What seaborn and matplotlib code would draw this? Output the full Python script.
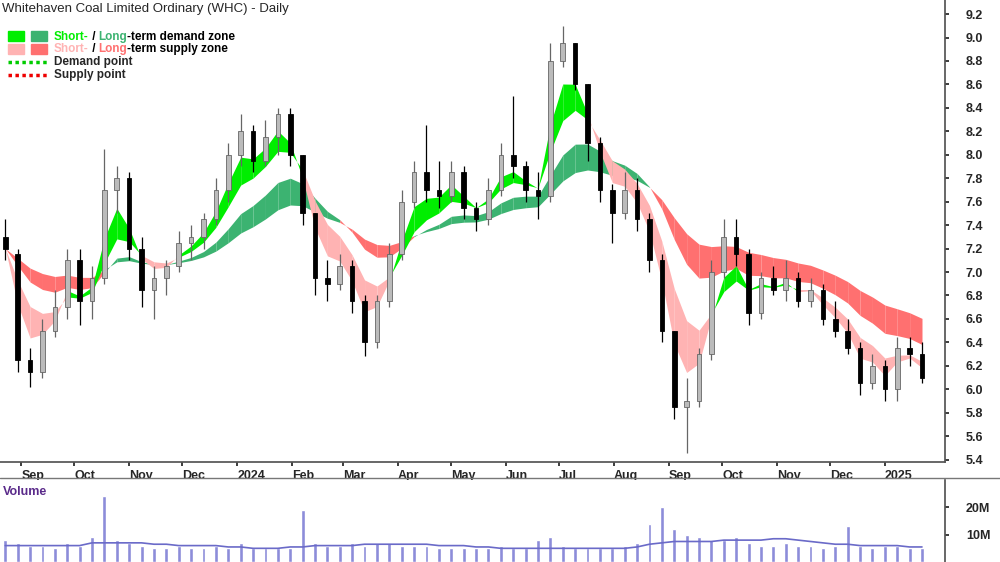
import numpy as np
import pandas as pd
import matplotlib
matplotlib.use("Agg")
import matplotlib.pyplot as plt
import matplotlib.dates as mdates
from matplotlib.patches import Rectangle
import seaborn as sns

sns.set_theme(style="white")
plt.rcParams['font.family'] = ['Liberation Sans', 'DejaVu Sans']

week_start = "2023-08-21"
opens  = [7.30,7.15,6.25,6.15,6.50,6.70,7.10,6.75,6.95,7.70,7.80,7.20,6.85,6.95,7.05,7.25,7.30,7.45,7.70,8.00,
          8.20,7.95,8.15,8.35,8.00,7.50,6.95,6.90,7.05,6.75,6.40,6.75,7.15,7.60,7.85,7.70,7.65,7.85,7.55,7.45,
          7.70,8.00,7.90,7.70,7.65,8.80,8.95,8.60,8.10,7.70,7.50,7.70,7.45,7.10,6.50,5.85,5.90,6.30,7.00,7.30,
          7.15,6.65,6.95,6.85,6.95,6.75,6.85,6.60,6.50,6.35,6.05,6.20,6.00,6.35,6.30]
highs  = [7.45,7.20,6.35,6.60,6.85,7.20,7.20,7.05,8.05,7.90,7.85,7.30,7.05,7.10,7.35,7.40,7.50,7.80,8.10,8.35,
          8.25,8.30,8.40,8.40,8.00,7.50,7.10,7.15,7.10,6.80,6.80,7.25,7.70,7.95,8.25,7.95,7.95,7.90,7.60,7.80,
          8.10,8.50,7.95,7.85,8.95,9.10,8.95,8.60,8.15,7.75,7.85,7.80,7.50,7.15,6.50,6.10,6.35,7.10,7.45,7.45,
          7.20,7.00,7.05,7.10,7.00,6.95,6.90,6.75,6.60,6.40,6.30,6.25,6.45,6.45,6.40]
lows   = [7.10,6.15,6.02,6.10,6.45,6.60,6.55,6.60,6.90,7.50,7.10,6.70,6.60,6.80,7.00,7.10,7.20,7.40,7.60,7.90,
          7.85,7.90,8.00,7.90,7.40,6.80,6.75,6.85,6.65,6.28,6.35,6.70,7.10,7.55,7.60,7.55,7.60,7.45,7.35,7.40,
          7.65,7.80,7.60,7.45,7.60,8.75,8.55,7.95,7.60,7.25,7.45,7.35,7.00,6.40,5.75,5.46,5.85,6.25,6.95,7.05,
          6.55,6.60,6.80,6.75,6.70,6.70,6.55,6.45,6.30,5.95,6.00,5.90,5.90,6.20,6.05]
closes = [7.20,6.25,6.15,6.50,6.70,7.10,6.75,6.95,7.70,7.80,7.20,6.85,6.95,7.05,7.25,7.30,7.45,7.70,8.00,8.20,
          7.95,8.15,8.35,8.00,7.50,6.95,6.90,7.05,6.75,6.40,6.75,7.15,7.60,7.85,7.70,7.65,7.85,7.55,7.45,7.70,
          8.00,7.90,7.70,7.65,8.80,8.95,8.60,8.10,7.70,7.50,7.70,7.45,7.10,6.50,5.85,5.90,6.30,7.00,7.30,7.15,
          6.65,6.95,6.85,6.95,6.75,6.85,6.60,6.50,6.35,6.05,6.20,6.00,6.35,6.30,6.10]
volumes_m = [8,7,6,6,5,7,6,9,24,8,7,6,5,5,6,5,5,6,5,7,
             5,5,5,5,19,7,6,6,7,6,7,7,6,6,6,5,5,5,5,5,
             6,5,5,8,9,6,5,5,5,5,6,7,14,20,12,10,9,8,8,9,
             7,6,6,7,6,6,5,6,13,6,5,6,6,5,5]
vol_ma_m = [6,6,6,6,6,6,6,7,7,7,7,7,6.5,6.5,6,6,6,6,5.5,5.5,
            5,5,5,5.5,5.5,6,6,6,6,6.5,6.5,6.5,6.5,6.5,6.5,6,6,6,5.5,5.5,
            5,5,5,5,5,5,5,5,5,5,5,5.5,6.5,7,7.5,7.5,7.5,7.5,8,8,
            8,8,8.5,8.5,8,7.5,7,6.5,6.5,6,6,6,6,5.5,5.5]
month_ticks = ["2023-09-01","2023-10-01","2023-11-01","2023-12-01","2024-01-01","2024-02-01","2024-03-01",
               "2024-04-01","2024-05-01","2024-06-01","2024-07-01","2024-08-01","2024-09-01","2024-10-01",
               "2024-11-01","2024-12-01","2025-01-01"]
month_labels = ["Sep","Oct","Nov","Dec","2024","Feb","Mar","Apr","May","Jun","Jul","Aug","Sep","Oct","Nov","Dec","2025"]

dates = pd.date_range(week_start, periods=len(closes), freq="W-MON") + pd.Timedelta(days=2)
df = pd.DataFrame({"date": dates, "open": opens, "high": highs, "low": lows, "close": closes,
                   "vol": volumes_m, "volma": vol_ma_m})
c = df["close"]
df["s1"] = c.ewm(span=3, adjust=False).mean()
df["s2"] = c.ewm(span=6, adjust=False).mean()
df["l1"] = c.ewm(span=12, adjust=False).mean()
df["l2"] = c.ewm(span=22, adjust=False).mean()

fig = plt.figure(figsize=(10, 5.62), dpi=100)
ax = fig.add_axes([0, 0.178, 0.945, 0.822])
axv = fig.add_axes([0, 0.0, 0.945, 0.146])

x = mdates.date2num(df["date"])
def zone(a, b, up, down):
    for i in range(len(x) - 1):
        col = up if (a[i] + a[i+1]) >= (b[i] + b[i+1]) else down
        ax.fill_between(x[i:i+2], a[i:i+2], b[i:i+2], color=col, lw=0, zorder=1)
zone(df["l1"].values, df["l2"].values, "#3cb371", "#ff7070")
zone(df["s1"].values, df["s2"].values, "#00ee00", "#ffb3b3")

w = 2.6
for xi, o, h, l, cl in zip(x, opens, highs, lows, closes):
    up = cl >= o
    ax.vlines(xi, l, h, color="#666666" if up else "black", lw=0.9, zorder=2)
    ax.add_patch(Rectangle((xi - w/2, min(o, cl)), w, max(abs(cl - o), 0.01),
                           facecolor="#bbbbbb" if up else "black",
                           edgecolor="#666666" if up else "black", lw=0.6, zorder=3))

xmin = mdates.date2num(pd.Timestamp("2023-08-20"))
xmax = mdates.date2num(pd.Timestamp("2025-02-04"))
ax.set_xlim(xmin, xmax)
ax.set_ylim(5.38, 9.32)
ax.yaxis.tick_right()
yt = np.arange(5.4, 9.21, 0.2)
ax.set_yticks(yt)
ax.set_yticklabels([f"{v:.1f}" for v in yt], fontsize=9, fontweight="bold")
ax.tick_params(axis="y", length=3, direction="out", right=True, pad=12)
ax.set_xticks(mdates.date2num(pd.to_datetime(month_ticks)))
ax.set_xticklabels(month_labels, fontsize=9, fontweight="bold", ha="left")
ax.tick_params(axis="x", length=3, bottom=True, direction="out", pad=3)
for s in ["top", "left"]:
    ax.spines[s].set_visible(False)
for s in ["right", "bottom"]:
    ax.spines[s].set_color("#555555")
ax.grid(False)

axv.bar(x, df["vol"], width=2.2, color="#8c8cd9", zorder=2)
sns.lineplot(data=df, x=x, y="volma", ax=axv, color="#6a6ac8", lw=1.2, zorder=3)
axv.set_xlim(xmin, xmax)
axv.set_ylim(0, 30)
axv.yaxis.tick_right()
axv.set_yticks([10, 20])
axv.set_yticklabels(["10M", "20M"], fontsize=9, fontweight="bold")
axv.tick_params(axis="y", length=3, right=True, pad=12)
axv.set_xticks([])
axv.set_xlabel(""); axv.set_ylabel("")
for s in ["top", "left", "bottom"]:
    axv.spines[s].set_visible(False)
axv.spines["right"].set_color("#555555")
axv.text(0.003, 0.93, "Volume", transform=axv.transAxes, color="#5a2a8a", fontsize=9,
         fontweight="bold", va="top")
fig.add_artist(plt.Line2D([0, 1], [0.149, 0.149], color="#777777", lw=1))

fig.text(0.002, 0.995, "Whitehaven Coal Limited Ordinary (WHC) - Daily", fontsize=9.5, va="top")
rows = [(0.935, "#00ee00", "#3cb371", [("Short-", "#00ee00"), (" / ", "black"), ("Long", "#3cb371"), ("-term demand zone", "black")]),
        (0.912, "#ffb3b3", "#ff7070", [("Short-", "#ffb3b3"), (" / ", "black"), ("Long", "#ff7070"), ("-term supply zone", "black")])]
for yy, c1, c2, parts in rows:
    fig.add_artist(Rectangle((0.008, yy - 0.008), 0.016, 0.017, color=c1, transform=fig.transFigure))
    fig.add_artist(Rectangle((0.031, yy - 0.008), 0.016, 0.017, color=c2, transform=fig.transFigure))
    t = None
    for txt, col in parts:
        if t is None:
            t = fig.text(0.054, yy, txt, color=col, fontsize=8.5, va="center", fontweight="bold")
        else:
            t = ax.annotate(txt, xycoords=t, xy=(1, 0), va="bottom", color=col, fontsize=8.5,
                            fontweight="bold", annotation_clip=False)
for yy, col, lab in [(0.889, "#00cc00", "Demand point"), (0.866, "#ee0000", "Supply point")]:
    fig.add_artist(plt.Line2D([0.008, 0.047], [yy, yy], color=col, lw=2.5, ls=(0, (1, 1))))
    fig.text(0.054, yy, lab, fontsize=8.5, va="center", fontweight="bold")

fig.savefig("out.png", dpi=100)
